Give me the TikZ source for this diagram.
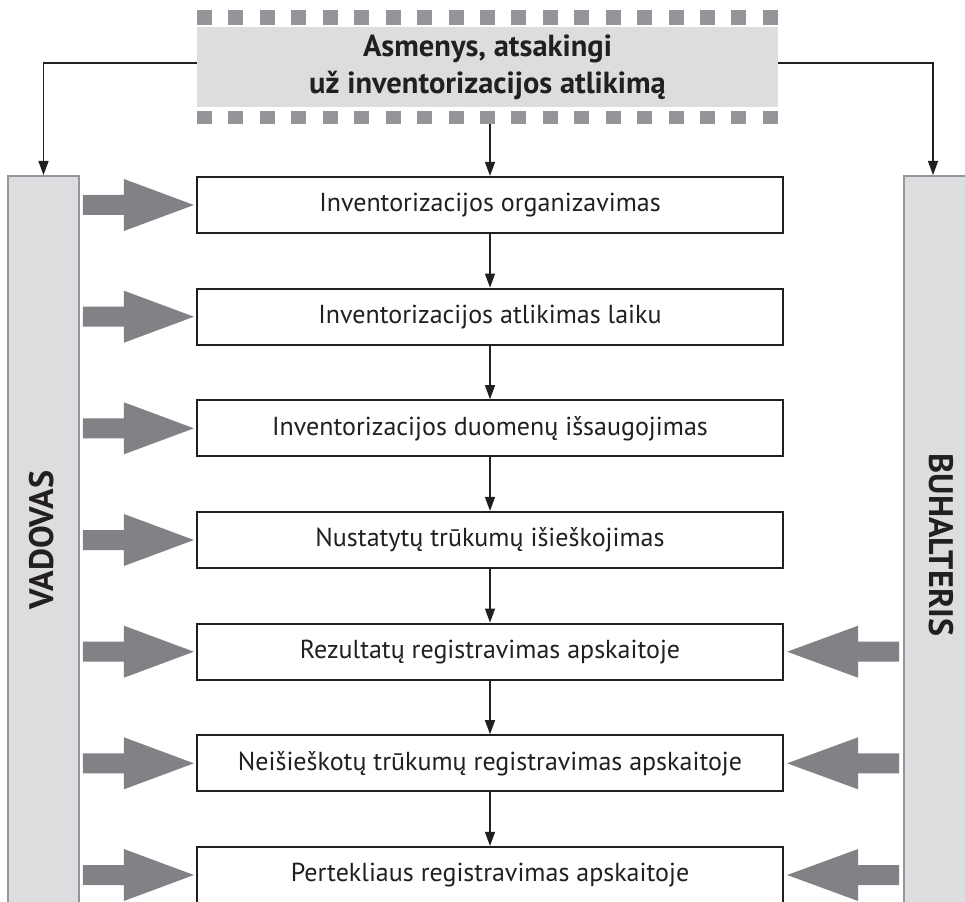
\documentclass[tikz,border=0pt]{standalone}
\usepackage{fontspec}
\setmainfont{PT Sans}
\usetikzlibrary{arrows.meta}
\definecolor{ink}{HTML}{231F20}
\definecolor{lightfill}{HTML}{DCDDDF}
\definecolor{edgegray}{HTML}{939598}
\definecolor{arrowgray}{HTML}{808285}
\tikzset{
  stepbox/.style={draw=ink, line width=2.2pt, fill=white, minimum width=586pt, minimum height=56pt, inner sep=0pt,
    font=\fontsize{26}{30}\selectfont, text=ink},
  sidebar/.style={draw=edgegray, line width=2pt, fill=lightfill, inner sep=0pt},
  sidelabel/.style={font=\fontsize{34}{40}\selectfont\bfseries, text=ink},
  titlebox/.style={fill=lightfill, minimum width=581pt, minimum height=80pt, inner sep=0pt, align=center,
    font=\fontsize{30.5}{37}\selectfont\bfseries, text=ink},
  sq/.style={fill=edgegray},
  thin/.style={draw=ink, line width=1.3pt, -{Triangle[length=14pt,width=10pt]}},
  blk/.style={fill=arrowgray}
}
\begin{document}
\begin{tikzpicture}[x=1pt, y=-1pt]
\useasboundingbox (0,0) rectangle (965,901);
\clip (0,0) rectangle (965,901);
\fill[white] (0,0) rectangle (965,901);

% title
\node[titlebox] (t) at (487.5,67) {Asmenys, atsakingi\\už inventorizacijos atlikimą};
\foreach \k in {0,...,18} {
  \fill[sq] (197+\k*31.44,10) rectangle ++(15,15);
  \fill[sq] (197+\k*31.44,111) rectangle ++(15,13);
}
\coordinate (tbot) at (490,124);

% side bars
\node[sidebar, minimum width=71pt, minimum height=740pt, anchor=north] (L) at (43.5,175) {};
\node[sidebar, minimum width=78pt, minimum height=740pt, anchor=north west] (R) at (903,175) {};
\node[sidelabel, rotate=90] (Lt) at (42,540) {VADOVAS};
\node[sidelabel, rotate=-90] (Rt) at (941,545) {BUHALTERIS};

% steps
\node[stepbox] (b1) at (490,205) {Inventorizacijos organizavimas};
\node[stepbox] (b2) at (490,316.7) {Inventorizacijos atlikimas laiku};
\node[stepbox] (b3) at (490,428.3) {Inventorizacijos duomenų išsaugojimas};
\node[stepbox] (b4) at (490,540) {Nustatytų trūkumų išieškojimas};
\node[stepbox] (b5) at (490,651.7) {Rezultatų registravimas apskaitoje};
\node[stepbox] (b6) at (490,763.3) {Neišieškotų trūkumų registravimas apskaitoje};
\node[stepbox] (b7) at (490,875) {Pertekliaus registravimas apskaitoje};

% connectors
\draw[thin] ([yshift=4pt]t.west) -| (L.north);
\draw[thin] ([yshift=4pt]t.east) -| ([xshift=-10pt]R.north);
\draw[thin] (tbot) -- (b1.north);
\foreach \a/\b in {b1/b2,b2/b3,b3/b4,b4/b5,b5/b6,b6/b7}
  \draw[thin] (\a.south) -- (\b.north);

% block arrows from VADOVAS
\foreach \i in {1,...,7}
  \fill[blk] ([xshift=-2pt]b\i.west) -- ++(-70,26) -- ++(0,-16) -- ++(-41,0) -- ++(0,-20) -- ++(41,0) -- ++(0,-16) -- cycle;
% block arrows from BUHALTERIS
\foreach \i in {5,6,7}
  \fill[blk] ([xshift=3pt]b\i.east) -- ++(71,26) -- ++(0,-16) -- ++(41,0) -- ++(0,-20) -- ++(-41,0) -- ++(0,-16) -- cycle;
\end{tikzpicture}
\end{document}
